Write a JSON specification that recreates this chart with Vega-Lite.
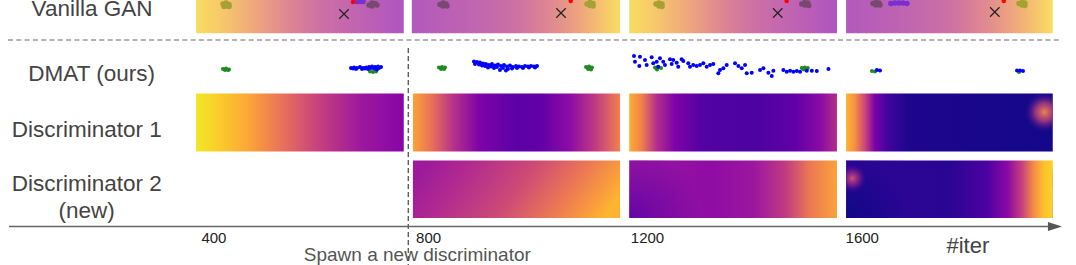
{
  "$schema": "https://vega.github.io/schema/vega-lite/v6.json",
  "width": 1076,
  "height": 265,
  "autosize": {"type": "none"},
  "padding": 0,
  "background": "white",
  "config": {"view": {"stroke": null}},
  "datasets": {
    "panels": [
      {"id": "v1", "x": 390, "x2": 777, "y": -10, "y2": 33.3},
      {"id": "v2", "x": 792, "x2": 1180, "y": -10, "y2": 33.3},
      {"id": "v3", "x": 1197, "x2": 1584, "y": -10, "y2": 33.3},
      {"id": "v4", "x": 1601, "x2": 1986, "y": -10, "y2": 33.3},
      {"id": "d1p1", "x": 390, "x2": 777, "y": 93.5, "y2": 151.5},
      {"id": "d1p2", "x": 794, "x2": 1180, "y": 93.5, "y2": 151.5},
      {"id": "d1p3", "x": 1197, "x2": 1584, "y": 93.5, "y2": 151.5},
      {"id": "d1p4", "x": 1601, "x2": 1986, "y": 93.5, "y2": 151.5},
      {"id": "d2p2", "x": 794, "x2": 1180, "y": 160.5, "y2": 218},
      {"id": "d2p3", "x": 1197, "x2": 1584, "y": 160.5, "y2": 218},
      {"id": "d2p4", "x": 1601, "x2": 1986, "y": 160.5, "y2": 218}
    ],
    "vanilla": [
      {"kind": "olive", "x": 440.2, "y": 4}, {"kind": "olive", "x": 445.8, "y": 3}, {"kind": "olive", "x": 451.4, "y": 4.5}, {"kind": "olive", "x": 445.8, "y": 6}, {"kind": "olive", "x": 442.1, "y": 6.5}, {"kind": "olive", "x": 451.4, "y": 6.5},
      {"kind": "violet", "x": 689.9, "y": 1.5}, {"kind": "violet", "x": 695.5, "y": 1.5}, {"kind": "violet", "x": 701.1, "y": 1.5},
      {"kind": "dark", "x": 712.2, "y": 5}, {"kind": "dark", "x": 717.8, "y": 3}, {"kind": "dark", "x": 723.4, "y": 3.5}, {"kind": "dark", "x": 727.1, "y": 5}, {"kind": "dark", "x": 717.8, "y": 6},
      {"kind": "dark", "x": 844.5, "y": 4.5}, {"kind": "dark", "x": 850.1, "y": 3}, {"kind": "dark", "x": 855.7, "y": 4}, {"kind": "dark", "x": 850.1, "y": 6}, {"kind": "dark", "x": 857.5, "y": 6},
      {"kind": "olive", "x": 1118.3, "y": 4}, {"kind": "olive", "x": 1123.9, "y": 2.5}, {"kind": "olive", "x": 1129.5, "y": 3.5}, {"kind": "olive", "x": 1123.9, "y": 5.5}, {"kind": "olive", "x": 1129.5, "y": 6},
      {"kind": "olive", "x": 1246.9, "y": 4}, {"kind": "olive", "x": 1252.5, "y": 3}, {"kind": "olive", "x": 1258.1, "y": 4}, {"kind": "olive", "x": 1252.5, "y": 6}, {"kind": "olive", "x": 1258.1, "y": 6.5},
      {"kind": "dark", "x": 1518.5, "y": 4}, {"kind": "dark", "x": 1524.1, "y": 2.5}, {"kind": "dark", "x": 1529.7, "y": 3}, {"kind": "dark", "x": 1524.1, "y": 5}, {"kind": "dark", "x": 1531.5, "y": 5.5},
      {"kind": "dark", "x": 1651.1, "y": 3.5}, {"kind": "dark", "x": 1656.7, "y": 2.5}, {"kind": "dark", "x": 1662.3, "y": 3}, {"kind": "dark", "x": 1656.7, "y": 5}, {"kind": "dark", "x": 1664.2, "y": 5},
      {"kind": "violet", "x": 1684.5, "y": 3.5}, {"kind": "violet", "x": 1691.9, "y": 3}, {"kind": "violet", "x": 1699.4, "y": 3}, {"kind": "violet", "x": 1706.8, "y": 3}, {"kind": "violet", "x": 1714.3, "y": 3.5},
      {"kind": "olive", "x": 1922.9, "y": 3.5}, {"kind": "olive", "x": 1928.5, "y": 2.5}, {"kind": "olive", "x": 1934.1, "y": 3}, {"kind": "olive", "x": 1928.5, "y": 5}, {"kind": "olive", "x": 1934.1, "y": 5.5},
      {"kind": "red", "x": 682.4, "y": 2}, {"kind": "red", "x": 1088.0, "y": 1}, {"kind": "red", "x": 1490.3, "y": 1}, {"kind": "red", "x": 1894.8, "y": 1}
    ],
    "crosses": [
      {"x": 665.6, "y": 14}, {"x": 1069.9, "y": 13}, {"x": 1473.6, "y": 13}, {"x": 1878.0, "y": 12}
    ],
    "dmat": [
      {"kind": "green", "x": 440.2, "y": 69}, {"kind": "green", "x": 445.8, "y": 68.5}, {"kind": "green", "x": 451.4, "y": 69.5}, {"kind": "green", "x": 444.0, "y": 70}, {"kind": "green", "x": 449.5, "y": 70},
      {"kind": "green", "x": 714.1, "y": 71.5}, {"kind": "green", "x": 719.7, "y": 72}, {"kind": "green", "x": 725.3, "y": 71.5},
      {"kind": "green", "x": 842.6, "y": 67.5}, {"kind": "green", "x": 848.2, "y": 67}, {"kind": "green", "x": 853.8, "y": 67.5}, {"kind": "green", "x": 846.4, "y": 69}, {"kind": "green", "x": 852.0, "y": 69},
      {"kind": "green", "x": 1116.5, "y": 67}, {"kind": "green", "x": 1122.1, "y": 66.5}, {"kind": "green", "x": 1127.6, "y": 67.5}, {"kind": "green", "x": 1120.2, "y": 69}, {"kind": "green", "x": 1125.8, "y": 69.5},
      {"kind": "green", "x": 1649.2, "y": 71}, {"kind": "green", "x": 1654.8, "y": 71.5}, {"kind": "green", "x": 1923.1, "y": 72},
      {"kind": "blue", "x": 678.7, "y": 68}, {"kind": "blue", "x": 684.3, "y": 67.5}, {"kind": "blue", "x": 689.9, "y": 68}, {"kind": "blue", "x": 695.5, "y": 67}, {"kind": "blue", "x": 701.1, "y": 68},
      {"kind": "blue", "x": 706.7, "y": 67.5}, {"kind": "blue", "x": 712.2, "y": 67}, {"kind": "blue", "x": 717.8, "y": 66.5}, {"kind": "blue", "x": 723.4, "y": 67}, {"kind": "blue", "x": 729.0, "y": 66.5},
      {"kind": "blue", "x": 734.6, "y": 67}, {"kind": "blue", "x": 688.0, "y": 69}, {"kind": "blue", "x": 699.2, "y": 69}, {"kind": "blue", "x": 710.4, "y": 69}, {"kind": "blue", "x": 721.6, "y": 68.5},
      {"kind": "blue", "x": 730.9, "y": 68}, {"kind": "blue", "x": 704.8, "y": 68.5}, {"kind": "blue", "x": 716.0, "y": 68}, {"kind": "blue", "x": 682.4, "y": 68.5}, {"kind": "blue", "x": 727.1, "y": 69.5},
      {"kind": "blue", "x": 907.8, "y": 61.5}, {"kind": "blue", "x": 913.4, "y": 62}, {"kind": "blue", "x": 919.0, "y": 62.5}, {"kind": "blue", "x": 909.7, "y": 64}, {"kind": "blue", "x": 917.1, "y": 64.5},
      {"kind": "blue", "x": 924.6, "y": 63.5}, {"kind": "blue", "x": 930.1, "y": 64}, {"kind": "blue", "x": 935.7, "y": 65}, {"kind": "blue", "x": 941.3, "y": 64}, {"kind": "blue", "x": 946.9, "y": 65.5},
      {"kind": "blue", "x": 952.5, "y": 64.5}, {"kind": "blue", "x": 958.1, "y": 66}, {"kind": "blue", "x": 963.7, "y": 65}, {"kind": "blue", "x": 969.3, "y": 66.5}, {"kind": "blue", "x": 974.9, "y": 65.5},
      {"kind": "blue", "x": 980.5, "y": 67}, {"kind": "blue", "x": 986.1, "y": 66}, {"kind": "blue", "x": 991.6, "y": 66.5}, {"kind": "blue", "x": 997.2, "y": 67}, {"kind": "blue", "x": 1002.8, "y": 66},
      {"kind": "blue", "x": 1008.4, "y": 66.5}, {"kind": "blue", "x": 1014.0, "y": 66}, {"kind": "blue", "x": 1019.6, "y": 66.5}, {"kind": "blue", "x": 1025.2, "y": 66}, {"kind": "blue", "x": 928.3, "y": 66},
      {"kind": "blue", "x": 939.5, "y": 66.5}, {"kind": "blue", "x": 950.6, "y": 67}, {"kind": "blue", "x": 961.8, "y": 68}, {"kind": "blue", "x": 971.1, "y": 69}, {"kind": "blue", "x": 978.6, "y": 68.5},
      {"kind": "blue", "x": 987.9, "y": 68}, {"kind": "blue", "x": 999.1, "y": 68}, {"kind": "blue", "x": 1010.3, "y": 67.5}, {"kind": "blue", "x": 956.2, "y": 70}, {"kind": "blue", "x": 967.4, "y": 70.5},
      {"kind": "blue", "x": 945.1, "y": 68}, {"kind": "blue", "x": 933.9, "y": 67.5}, {"kind": "blue", "x": 922.7, "y": 65.5}, {"kind": "blue", "x": 1021.5, "y": 67.5},
      {"kind": "green", "x": 1245.0, "y": 67.5}, {"kind": "green", "x": 1250.6, "y": 67}, {"kind": "green", "x": 1256.2, "y": 68}, {"kind": "green", "x": 1248.7, "y": 69.5},
      {"kind": "green", "x": 1518.5, "y": 68}, {"kind": "green", "x": 1524.1, "y": 67.5}, {"kind": "green", "x": 1529.7, "y": 68}, {"kind": "green", "x": 1522.2, "y": 69.5},
      {"kind": "blue", "x": 1205.9, "y": 56}, {"kind": "blue", "x": 1207.7, "y": 61.7}, {"kind": "blue", "x": 1217.0, "y": 56.7}, {"kind": "blue", "x": 1215.8, "y": 66}, {"kind": "blue", "x": 1226.4, "y": 60},
      {"kind": "blue", "x": 1229.5, "y": 65}, {"kind": "blue", "x": 1238.8, "y": 57.3}, {"kind": "blue", "x": 1241.8, "y": 63.3}, {"kind": "blue", "x": 1248.1, "y": 61.7}, {"kind": "blue", "x": 1251.1, "y": 66.7},
      {"kind": "blue", "x": 1254.3, "y": 58.3}, {"kind": "blue", "x": 1260.4, "y": 61.7}, {"kind": "blue", "x": 1263.6, "y": 65}, {"kind": "blue", "x": 1272.9, "y": 59.3}, {"kind": "blue", "x": 1276.1, "y": 64},
      {"kind": "blue", "x": 1279.0, "y": 60}, {"kind": "blue", "x": 1285.4, "y": 62.7}, {"kind": "blue", "x": 1288.3, "y": 66.7}, {"kind": "blue", "x": 1294.7, "y": 59.3}, {"kind": "blue", "x": 1297.7, "y": 61},
      {"kind": "blue", "x": 1307.0, "y": 63.3}, {"kind": "blue", "x": 1310.2, "y": 66.7}, {"kind": "blue", "x": 1316.3, "y": 65}, {"kind": "blue", "x": 1322.7, "y": 66}, {"kind": "blue", "x": 1328.8, "y": 65},
      {"kind": "blue", "x": 1335.0, "y": 63.3}, {"kind": "blue", "x": 1341.3, "y": 66.7}, {"kind": "blue", "x": 1347.5, "y": 65}, {"kind": "blue", "x": 1353.6, "y": 64}, {"kind": "blue", "x": 1363.0, "y": 73.3},
      {"kind": "blue", "x": 1366.1, "y": 70}, {"kind": "blue", "x": 1372.3, "y": 68.3}, {"kind": "blue", "x": 1378.6, "y": 65}, {"kind": "blue", "x": 1394.1, "y": 63.3}, {"kind": "blue", "x": 1400.3, "y": 66},
      {"kind": "blue", "x": 1406.6, "y": 68.3}, {"kind": "blue", "x": 1412.8, "y": 65}, {"kind": "blue", "x": 1415.9, "y": 73.3}, {"kind": "blue", "x": 1425.2, "y": 72.7}, {"kind": "blue", "x": 1440.7, "y": 70},
      {"kind": "blue", "x": 1446.9, "y": 68.3}, {"kind": "blue", "x": 1456.2, "y": 72.7}, {"kind": "blue", "x": 1465.5, "y": 70.7}, {"kind": "blue", "x": 1462.5, "y": 76}, {"kind": "blue", "x": 1484.1, "y": 70},
      {"kind": "blue", "x": 1490.5, "y": 71.7}, {"kind": "blue", "x": 1496.6, "y": 70.7}, {"kind": "blue", "x": 1502.8, "y": 71.7}, {"kind": "blue", "x": 1509.2, "y": 71}, {"kind": "blue", "x": 1515.3, "y": 71.7},
      {"kind": "blue", "x": 1527.8, "y": 70.7}, {"kind": "blue", "x": 1537.1, "y": 70.7}, {"kind": "blue", "x": 1546.4, "y": 71}, {"kind": "blue", "x": 1568.1, "y": 69},
      {"kind": "blue", "x": 1658.5, "y": 70}, {"kind": "blue", "x": 1664.2, "y": 70.5},
      {"kind": "blue", "x": 1919.4, "y": 70.5}, {"kind": "blue", "x": 1925.0, "y": 70.5}, {"kind": "blue", "x": 1930.6, "y": 71}
    ],
    "rowlabels": [
      {"label": "Vanilla GAN", "x": 196.2, "y": 16},
      {"label": "DMAT (ours)", "x": 195.6, "y": 81},
      {"label": "Discriminator 1", "x": 186.3, "y": 136.7},
      {"label": "Discriminator 2", "x": 186.3, "y": 191},
      {"label": "(new)", "x": 186.3, "y": 217.5}
    ],
    "ticks": [
      {"label": "400", "x": 400, "y": 242.5},
      {"label": "800", "x": 800, "y": 242.5},
      {"label": "1200", "x": 1200, "y": 242.5},
      {"label": "1600", "x": 1600, "y": 242.5}
    ]
  },
  "encoding": {
    "x": {"field": "x", "type": "quantitative", "scale": {"domain": [24.8, 2029.3], "nice": false, "zero": false}, "axis": null},
    "y": {"field": "y", "type": "quantitative", "scale": {"domain": [0, 265], "reverse": true, "nice": false, "zero": false}, "axis": null}
  },
  "layer": [
    {
      "data": {"name": "panels"},
      "transform": [{"filter": "datum.id == 'v1' || datum.id == 'v3'"}],
      "mark": {"type": "rect", "fill": {"gradient": "linear", "x1": 0, "y1": 0, "x2": 1, "y2": 0, "stops": [
        {"offset": 0, "color": "#f9dc62"}, {"offset": 0.12, "color": "#f7c96a"}, {"offset": 0.3, "color": "#eea37f"},
        {"offset": 0.45, "color": "#dd8593"}, {"offset": 0.6, "color": "#cd70a4"}, {"offset": 0.8, "color": "#bf62b3"}, {"offset": 1, "color": "#ad55c0"}]}},
      "encoding": {"x2": {"field": "x2"}, "y2": {"field": "y2"}}
    },
    {
      "data": {"name": "panels"},
      "transform": [{"filter": "datum.id == 'v2' || datum.id == 'v4'"}],
      "mark": {"type": "rect", "fill": {"gradient": "linear", "x1": 0, "y1": 0, "x2": 1, "y2": 0, "stops": [
        {"offset": 0, "color": "#b259bd"}, {"offset": 0.3, "color": "#c065b0"}, {"offset": 0.5, "color": "#cd70a4"},
        {"offset": 0.65, "color": "#dd8593"}, {"offset": 0.8, "color": "#eea37f"}, {"offset": 0.92, "color": "#f6c56c"}, {"offset": 1, "color": "#f9dd62"}]}},
      "encoding": {"x2": {"field": "x2"}, "y2": {"field": "y2"}}
    },
    {
      "data": {"name": "panels"},
      "transform": [{"filter": "datum.id == 'd1p1'"}],
      "mark": {"type": "rect", "fill": {"gradient": "linear", "x1": 0, "y1": 0, "x2": 1, "y2": 0, "stops": [
        {"offset": 0, "color": "#f2e726"}, {"offset": 0.1, "color": "#f9cf2a"}, {"offset": 0.25, "color": "#fca636"},
        {"offset": 0.42, "color": "#e8705b"}, {"offset": 0.6, "color": "#c43e7f"}, {"offset": 0.8, "color": "#9c179e"}, {"offset": 1, "color": "#8606a6"}]}},
      "encoding": {"x2": {"field": "x2"}, "y2": {"field": "y2"}}
    },
    {
      "data": {"name": "panels"},
      "transform": [{"filter": "datum.id == 'd1p2'"}],
      "mark": {"type": "rect", "fill": {"gradient": "linear", "x1": 0, "y1": 0, "x2": 1, "y2": 0, "stops": [
        {"offset": 0, "color": "#fca338"}, {"offset": 0.1, "color": "#e56b5d"}, {"offset": 0.2, "color": "#b52f8c"},
        {"offset": 0.32, "color": "#7e03a8"}, {"offset": 0.5, "color": "#5c01a6"}, {"offset": 0.62, "color": "#6300a7"},
        {"offset": 0.76, "color": "#8e0ca4"}, {"offset": 0.88, "color": "#c03a83"}, {"offset": 1, "color": "#f0814e"}]}},
      "encoding": {"x2": {"field": "x2"}, "y2": {"field": "y2"}}
    },
    {
      "data": {"name": "panels"},
      "transform": [{"filter": "datum.id == 'd1p3'"}],
      "mark": {"type": "rect", "fill": {"gradient": "linear", "x1": 0, "y1": 0, "x2": 1, "y2": 0, "stops": [
        {"offset": 0, "color": "#fdae32"}, {"offset": 0.06, "color": "#f0804c"}, {"offset": 0.13, "color": "#b52f8c"},
        {"offset": 0.22, "color": "#7e03a8"}, {"offset": 0.35, "color": "#5402a3"}, {"offset": 0.6, "color": "#4b03a1"},
        {"offset": 0.8, "color": "#6100a7"}, {"offset": 0.92, "color": "#8a0aa5"}, {"offset": 1, "color": "#b32f88"}]}},
      "encoding": {"x2": {"field": "x2"}, "y2": {"field": "y2"}}
    },
    {
      "data": {"name": "panels"},
      "transform": [{"filter": "datum.id == 'd1p4'"}],
      "mark": {"type": "rect", "fill": {"gradient": "linear", "x1": 0, "y1": 0, "x2": 1, "y2": 0, "stops": [
        {"offset": 0, "color": "#fdb42f"}, {"offset": 0.04, "color": "#f79342"}, {"offset": 0.09, "color": "#cc4778"},
        {"offset": 0.14, "color": "#7a02a8"}, {"offset": 0.2, "color": "#42049e"}, {"offset": 0.3, "color": "#1e068d"}, {"offset": 1, "color": "#14078a"}]}},
      "encoding": {"x2": {"field": "x2"}, "y2": {"field": "y2"}}
    },
    {
      "data": {"name": "panels"},
      "transform": [{"filter": "datum.id == 'd1p4'"}],
      "mark": {"type": "rect", "fill": {"gradient": "radial", "x1": 0.96, "y1": 0.45, "r1": 0, "x2": 0.96, "y2": 0.45, "r2": 0.1, "stops": [
        {"offset": 0, "color": "rgba(242,132,75,1)"}, {"offset": 0.45, "color": "rgba(204,71,120,0.7)"}, {"offset": 1, "color": "rgba(40,5,150,0)"}]}},
      "encoding": {"x2": {"field": "x2"}, "y2": {"field": "y2"}}
    },
    {
      "data": {"name": "panels"},
      "transform": [{"filter": "datum.id == 'd2p2'"}],
      "mark": {"type": "rect", "fill": {"gradient": "linear", "x1": 0, "y1": 0.4, "x2": 1, "y2": 0.6, "stops": [
        {"offset": 0, "color": "#9d1b9b"}, {"offset": 0.2, "color": "#b12a90"}, {"offset": 0.5, "color": "#cd4a76"},
        {"offset": 0.75, "color": "#ec7853"}, {"offset": 0.9, "color": "#f99a3e"}, {"offset": 1, "color": "#fdb42f"}]}},
      "encoding": {"x2": {"field": "x2"}, "y2": {"field": "y2"}}
    },
    {
      "data": {"name": "panels"},
      "transform": [{"filter": "datum.id == 'd2p3'"}],
      "mark": {"type": "rect", "fill": {"gradient": "linear", "x1": 0, "y1": 0, "x2": 1, "y2": 0, "stops": [
        {"offset": 0, "color": "#9b179e"}, {"offset": 0.4, "color": "#8e0ca4"}, {"offset": 0.6, "color": "#9c179e"},
        {"offset": 0.75, "color": "#c03a83"}, {"offset": 0.87, "color": "#ec7853"}, {"offset": 1, "color": "#fba238"}]}},
      "encoding": {"x2": {"field": "x2"}, "y2": {"field": "y2"}}
    },
    {
      "data": {"name": "panels"},
      "transform": [{"filter": "datum.id == 'd2p3'"}],
      "mark": {"type": "rect", "fill": {"gradient": "radial", "x1": 0, "y1": 0.64, "r1": 0, "x2": 0, "y2": 0.64, "r2": 0.35, "stops": [
        {"offset": 0, "color": "rgba(90,1,166,0.85)"}, {"offset": 1, "color": "rgba(90,1,166,0)"}]}},
      "encoding": {"x2": {"field": "x2"}, "y2": {"field": "y2"}}
    },
    {
      "data": {"name": "panels"},
      "transform": [{"filter": "datum.id == 'd2p4'"}],
      "mark": {"type": "rect", "fill": {"gradient": "linear", "x1": 0, "y1": 0, "x2": 1, "y2": 0, "stops": [
        {"offset": 0, "color": "#2c0594"}, {"offset": 0.5, "color": "#2a0593"}, {"offset": 0.68, "color": "#4c02a1"},
        {"offset": 0.78, "color": "#8a09a5"}, {"offset": 0.85, "color": "#c5407e"}, {"offset": 0.91, "color": "#f68f44"}, {"offset": 0.96, "color": "#fcc22b"}, {"offset": 1, "color": "#fcd225"}]}},
      "encoding": {"x2": {"field": "x2"}, "y2": {"field": "y2"}}
    },
    {
      "data": {"name": "panels"},
      "transform": [{"filter": "datum.id == 'd2p4'"}],
      "mark": {"type": "rect", "fill": {"gradient": "radial", "x1": 0, "y1": 0.64, "r1": 0, "x2": 0, "y2": 0.64, "r2": 0.3, "stops": [
        {"offset": 0, "color": "rgba(13,8,135,0.9)"}, {"offset": 1, "color": "rgba(13,8,135,0)"}]}},
      "encoding": {"x2": {"field": "x2"}, "y2": {"field": "y2"}}
    },
    {
      "data": {"name": "panels"},
      "transform": [{"filter": "datum.id == 'd2p4'"}],
      "mark": {"type": "rect", "fill": {"gradient": "radial", "x1": 0.03, "y1": 0.447, "r1": 0, "x2": 0.03, "y2": 0.447, "r2": 0.07, "stops": [
        {"offset": 0, "color": "rgba(210,85,110,1)"}, {"offset": 0.5, "color": "rgba(160,40,140,0.6)"}, {"offset": 1, "color": "rgba(60,4,155,0)"}]}},
      "encoding": {"x2": {"field": "x2"}, "y2": {"field": "y2"}}
    },
    {
      "data": {"values": [{"x": 39.7, "x2": 2003.2, "y": 40}]},
      "mark": {"type": "rule", "color": "#9a9a9a", "strokeWidth": 1.5, "strokeDash": [5, 3.3]},
      "encoding": {"x2": {"field": "x2"}}
    },
    {
      "data": {"values": [{"x": 785.4, "y": 48, "y2": 265}]},
      "mark": {"type": "rule", "color": "#555555", "strokeWidth": 1.3, "strokeDash": [5, 3]},
      "encoding": {"y2": {"field": "y2"}}
    },
    {
      "data": {"values": [{"x": 41.6, "x2": 1980.8, "y": 226.5}]},
      "mark": {"type": "rule", "color": "#666666", "strokeWidth": 1.5},
      "encoding": {"x2": {"field": "x2"}}
    },
    {
      "data": {"values": [{"x": 1990.1, "y": 226.5}]},
      "mark": {"type": "point", "shape": "M-1,-0.65L1,0L-1,0.65Z", "size": 196, "filled": true, "color": "#555555", "opacity": 1},
      "encoding": {}
    },
    {
      "data": {"name": "vanilla"},
      "transform": [{"filter": "datum.kind != 'red'"}],
      "mark": {"type": "point", "shape": "circle", "filled": true, "opacity": 1, "size": 30},
      "encoding": {"color": {"field": "kind", "type": "nominal", "scale": {"domain": ["olive", "dark", "violet", "red", "green", "blue"], "range": ["#a6a232", "#78496f", "#7b2fd0", "#ff0000", "#1f8a1f", "#0000ff"]}, "legend": null}}
    },
    {
      "data": {"name": "vanilla"},
      "transform": [{"filter": "datum.kind == 'red'"}],
      "mark": {"type": "point", "shape": "circle", "filled": true, "opacity": 1, "size": 20},
      "encoding": {"color": {"field": "kind", "type": "nominal", "scale": {"domain": ["olive", "dark", "violet", "red", "green", "blue"], "range": ["#a6a232", "#78496f", "#7b2fd0", "#ff0000", "#1f8a1f", "#0000ff"]}, "legend": null}}
    },
    {
      "data": {"name": "crosses"},
      "mark": {"type": "point", "shape": "M-1,-1L1,1M-1,1L1,-1", "size": 90, "filled": false, "stroke": "#222222", "strokeWidth": 1.2, "opacity": 1},
      "encoding": {}
    },
    {
      "data": {"name": "dmat"},
      "mark": {"type": "point", "shape": "circle", "filled": true, "opacity": 1, "size": 16},
      "encoding": {"color": {"field": "kind", "type": "nominal", "scale": {"domain": ["olive", "dark", "violet", "red", "green", "blue"], "range": ["#a6a232", "#78496f", "#7b2fd0", "#ff0000", "#1f8a1f", "#0000ff"]}, "legend": null}}
    },
    {
      "data": {"name": "rowlabels"},
      "mark": {"type": "text", "font": "Liberation Sans", "fontSize": 22.5, "color": "#444444", "align": "center", "baseline": "alphabetic"},
      "encoding": {"text": {"field": "label"}}
    },
    {
      "data": {"name": "ticks"},
      "mark": {"type": "text", "font": "Liberation Sans", "fontSize": 15, "color": "#222222", "align": "left", "baseline": "alphabetic"},
      "encoding": {"text": {"field": "label"}}
    },
    {
      "data": {"values": [{"label": "#iter", "x": 1788.0, "y": 252.5}]},
      "mark": {"type": "text", "font": "Liberation Sans", "fontSize": 22, "color": "#444444", "align": "left", "baseline": "alphabetic"},
      "encoding": {"text": {"field": "label"}}
    },
    {
      "data": {"values": [{"label": "Spawn a new discriminator", "x": 802.2, "y": 260.5}]},
      "mark": {"type": "text", "font": "Liberation Sans", "fontSize": 19, "color": "#555555", "align": "center", "baseline": "alphabetic"},
      "encoding": {"text": {"field": "label"}}
    }
  ]
}
